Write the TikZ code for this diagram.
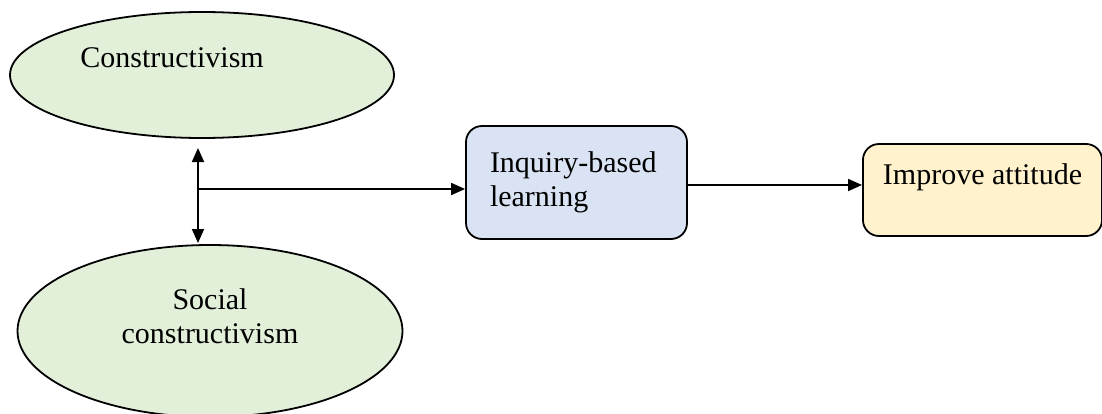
\documentclass[tikz,border=0pt]{standalone}
\usepackage{fontspec}
\setmainfont{Liberation Serif}
\usetikzlibrary{shapes,arrows,positioning}
\usetikzlibrary{arrows.meta}

\definecolor{theorygreen}{HTML}{E2EFD9}
\definecolor{methodblue}{HTML}{DAE3F3}
\definecolor{outcomeyellow}{HTML}{FFF2CC}

\tikzset{
  theory/.style={ellipse, draw, line width=0.9pt, fill=theorygreen},
  stagebox/.style={rectangle, rounded corners=8pt, draw, line width=0.9pt, align=left, inner xsep=12pt},
  flow/.style={line width=0.9pt, -{Triangle[length=7pt,width=6pt]}}
}

\begin{document}
\begin{tikzpicture}[x=0.5pt, y=0.5pt, font=\fontsize{15}{17}\selectfont]
\useasboundingbox (0,0) rectangle (1102,413);

% Theories (ellipses)
\node[theory, minimum width=192pt, minimum height=63pt] (cons) at (202,338) {};
\node[anchor=base west, inner sep=0pt] (constext) at (80,345) {Constructivism};

\node[theory, minimum width=192.5pt, minimum height=86pt, align=center] (social) at (210,82) {};
\node[align=center, inner sep=0pt] (socialtext) at (210,97) {Social\\constructivism};

% Method and outcome boxes
\node[stagebox, fill=methodblue, text width=86.5pt, minimum height=56.5pt] (inquiry) at (576.5,230.5) {Inquiry-based\\learning};
\node[stagebox, fill=outcomeyellow, inner xsep=10pt, minimum width=118.5pt, inner ysep=5pt, text height=15.5pt, text depth=20.5pt] (improve) at (982.5,223) {Improve attitude};

% Double arrow between the two theories
\coordinate (dtop) at (198,265);
\coordinate (dbot) at (198,170);
\draw[line width=0.9pt, {Triangle[length=7pt,width=6pt]}-{Triangle[length=7pt,width=6pt]}] (dtop) -- (dbot);

% Branch to inquiry-based learning
\coordinate (branch) at (199,224);
\draw[flow] (branch) -- (branch -| inquiry.west);

% Inquiry-based learning to outcome
\coordinate (link) at (688,228);
\draw[flow] (link) -- (link -| improve.west);

\end{tikzpicture}
\end{document}
